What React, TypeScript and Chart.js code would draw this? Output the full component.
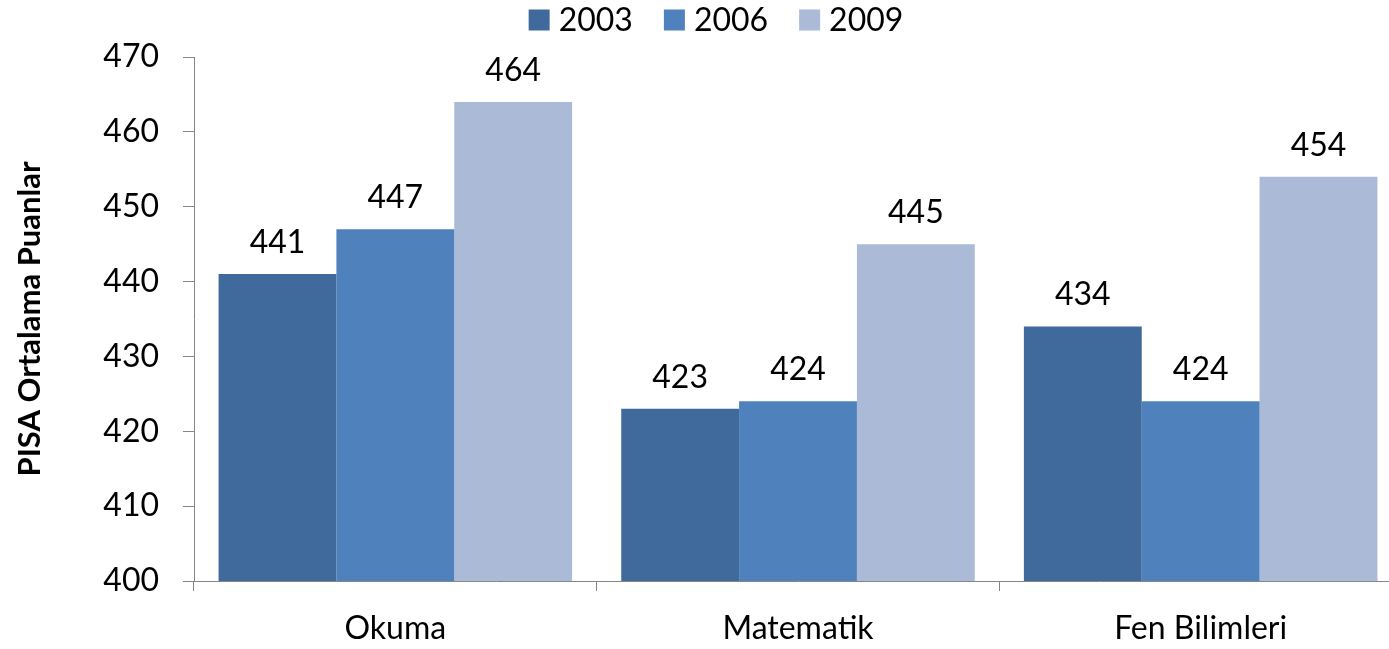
import React, { useEffect, useRef } from "react";
import { Chart, registerables } from "chart.js";

Chart.register(...registerables);

const categories = ["Okuma", "Matematik", "Fen Bilimleri"];
const seriesNames = ["2003", "2006", "2009"];
const values2003 = [441, 423, 434];
const values2006 = [447, 424, 424];
const values2009 = [464, 445, 454];
const yTicks = [400, 410, 420, 430, 440, 450, 460, 470];
const colors = ["#416A9C", "#4F81BD", "#AABAD7"];

const FONT = "Lato, 'Open Sans', sans-serif";
const AXIS = "#868686";

const valueLabels = {
  id: "valueLabels",
  afterDatasetsDraw(chart: any) {
    const ctx = chart.ctx;
    ctx.save();
    ctx.font = `32px ${FONT}`;
    ctx.fillStyle = "#000";
    ctx.textAlign = "center";
    ctx.textBaseline = "alphabetic";
    chart.data.datasets.forEach((ds: any, i: number) => {
      const meta = chart.getDatasetMeta(i);
      meta.data.forEach((el: any, j: number) => {
        ctx.fillText(String(ds.data[j]), el.x, el.y - 21);
      });
    });
    ctx.restore();
  },
};

// Legend drawn in a row centred above the plot: square, small gap, label
const topLegend = {
  id: "topLegend",
  afterDraw(chart: any) {
    const ctx = chart.ctx;
    ctx.save();
    ctx.font = `32px ${FONT}`;
    ctx.textBaseline = "middle";
    ctx.textAlign = "left";
    const box = 21;
    const gap = 9;
    const spacing = 31;
    const items = chart.data.datasets.map((ds: any) => ({
      text: ds.label,
      color: ds.backgroundColor,
      w: box + gap + ctx.measureText(ds.label).width,
    }));
    const total = items.reduce((a: number, it: any) => a + it.w, 0) + spacing * (items.length - 1);
    const cy = 20;
    let x = 716 - total / 2;
    items.forEach((it: any) => {
      ctx.fillStyle = it.color;
      ctx.fillRect(x, cy - box / 2, box, box);
      ctx.fillStyle = "#000";
      ctx.fillText(it.text, x + box + gap, cy + 1);
      x += it.w + spacing;
    });
    ctx.restore();
  },
};

export default function App() {
  const ref = useRef<HTMLCanvasElement>(null);
  useEffect(() => {
    document.body.style.margin = "0";
    document.body.style.overflow = "hidden";
    const chart = new Chart(ref.current!, {
      type: "bar",
      data: {
        labels: categories,
        datasets: [values2003, values2006, values2009].map((d, i) => ({
          label: seriesNames[i],
          data: d,
          backgroundColor: colors[i],
          borderWidth: 0,
          categoryPercentage: 0.878,
          barPercentage: 1,
        })),
      },
      options: {
        animation: false,
        responsive: false,
        maintainAspectRatio: false,
        layout: { padding: { top: 57, left: 0, right: 0, bottom: 0 } },
        plugins: {
          legend: { display: false },
          tooltip: { enabled: false },
        },
        scales: {
          x: {
            grid: {
              display: true,
              drawOnChartArea: false,
              drawTicks: true,
              tickLength: 10,
              color: AXIS,
              offset: true,
            },
            border: { display: true, color: AXIS, width: 1 },
            ticks: {
              color: "#000",
              padding: 18,
              font: { family: FONT, size: 32 },
            },
            afterFit: (s: any) => {
              s.height = 68;
            },
          },
          y: {
            min: 400,
            max: 470,
            afterBuildTicks: (s: any) => {
              s.ticks = yTicks.map((v) => ({ value: v }));
            },
            grid: {
              display: true,
              drawOnChartArea: false,
              drawTicks: true,
              tickLength: 11,
              color: AXIS,
            },
            border: { display: true, color: AXIS, width: 1 },
            ticks: {
              color: "#000",
              padding: 24,
              font: { family: FONT, size: 32 },
            },
            title: {
              display: true,
              text: "PISA Ortalama Puanlar",
              color: "#000",
              font: { family: FONT, size: 31, weight: "bold" },
              padding: { top: 11, bottom: 0 },
            },
            afterFit: (s: any) => {
              s.width = 194;
            },
          },
        },
      },
      plugins: [valueLabels, topLegend],
    });
    return () => chart.destroy();
  }, []);
  return (
    <div style={{ width: 1402, height: 649 }}>
      <canvas ref={ref} width={1402} height={649} style={{ width: 1402, height: 649, display: "block" }} />
    </div>
  );
}
